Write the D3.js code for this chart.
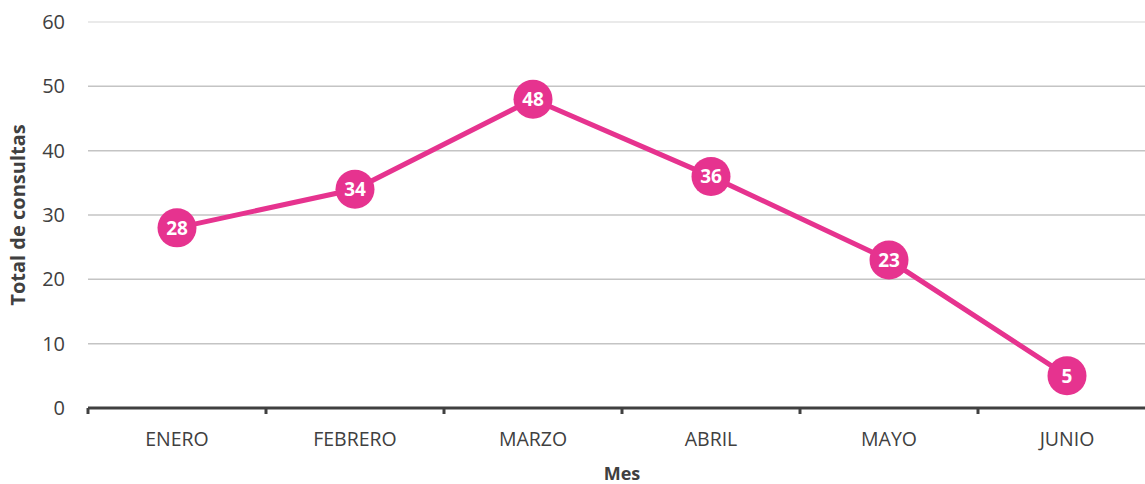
<!DOCTYPE html>
<html>
<head>
<meta charset="utf-8">
<script src="https://cdn.jsdelivr.net/npm/d3@7"></script>
<style>
  body { margin: 0; background: #fff; }
  text { font-family: "Open Sans", "Noto Sans", sans-serif; fill: #404040; }
</style>
</head>
<body>
<svg id="chart"></svg>
<script>
const months = ["ENERO", "FEBRERO", "MARZO", "ABRIL", "MAYO", "JUNIO"];
const consultas = [28, 34, 48, 36, 23, 5];
const yTicks = [0, 10, 20, 30, 40, 50, 60];

const width = 1145, height = 484;
const margin = { top: 22, left: 88, bottom: 76 };

const svg = d3.select("#chart").attr("width", width).attr("height", height);

const x = d3.scaleBand().domain(months).range([margin.left, margin.left + 178 * 6]);
const y = d3.scaleLinear().domain([0, 60]).range([height - margin.bottom, margin.top]);

// gridlines
svg.append("g")
  .selectAll("line")
  .data(yTicks.slice(1))
  .join("line")
  .attr("x1", margin.left)
  .attr("x2", width)
  .attr("y1", d => y(d))
  .attr("y2", d => y(d))
  .attr("stroke", d => (d === 60 ? "#e3e3e3" : "#c4c4c4"))
  .attr("stroke-width", 1.5);

// y axis labels
const yAxis = d3.axisLeft(y).tickValues(yTicks).tickSize(0).tickPadding(23);
svg.append("g")
  .attr("transform", `translate(${margin.left},0)`)
  .call(yAxis)
  .call(g => g.select(".domain").remove())
  .selectAll("text")
  .style("font-size", "20px")
  .attr("fill", "#404040");

// x axis
const xAxis = d3.axisBottom(x).tickSize(0).tickPadding(24);
const xg = svg.append("g")
  .attr("transform", `translate(0,${y(0)})`)
  .call(xAxis);
xg.select(".domain").remove();
xg.selectAll("text").style("font-size", "19.5px").attr("fill", "#404040");
xg.append("line")
  .attr("x1", margin.left).attr("x2", width)
  .attr("stroke", "#404040").attr("stroke-width", 3);
xg.selectAll(".edge")
  .data(months.map(m => x(m)).concat([x.range()[1]]))
  .join("line")
  .attr("class", "edge")
  .attr("x1", d => d).attr("x2", d => d)
  .attr("y1", 0).attr("y2", 6)
  .attr("stroke", "#404040").attr("stroke-width", 3);

const pink = "#e6338f";
const cx = d => x(d) + x.bandwidth() / 2;

svg.append("path")
  .datum(months)
  .attr("fill", "none")
  .attr("stroke", pink)
  .attr("stroke-width", 5)
  .attr("d", d3.line().x(d => cx(d)).y((d, i) => y(consultas[i])));

const pts = svg.append("g").selectAll("g")
  .data(months)
  .join("g")
  .attr("transform", (d, i) => `translate(${cx(d)},${y(consultas[i])})`);

pts.append("circle").attr("r", 19.5).attr("fill", pink);
pts.append("text")
  .attr("text-anchor", "middle")
  .attr("dy", "0.36em")
  .style("font-size", "19px")
  .style("font-weight", "bold")
  .style("fill", "#fff")
  .text((d, i) => consultas[i]);

// axis titles
svg.append("text")
  .attr("transform", `translate(25,${(y(0) + y(60)) / 2}) rotate(-90)`)
  .attr("text-anchor", "middle")
  .style("font-size", "20px")
  .style("font-weight", "bold")
  .text("Total de consultas");

svg.append("text")
  .attr("x", 622)
  .attr("y", 474)
  .attr("dy", "0.35em")
  .attr("text-anchor", "middle")
  .style("font-size", "18px")
  .style("font-weight", "bold")
  .text("Mes");
</script>
</body>
</html>
